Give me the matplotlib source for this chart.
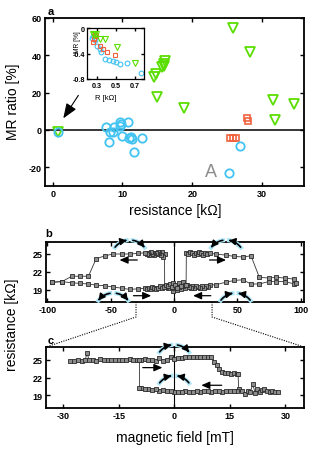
import matplotlib
matplotlib.use('Agg')
import matplotlib.pyplot as plt
import numpy as np
from matplotlib.patches import FancyArrowPatch
from matplotlib.path import Path
from matplotlib.lines import Line2D

plt.rcParams['font.family'] = ['Liberation Sans', 'DejaVu Sans']
plt.rcParams['axes.unicode_minus'] = False

# ---------------- data: panel a ----------------
blue_R = [0.7, 7.7, 8.0, 8.2, 8.7, 8.8, 9.6, 9.7, 9.8, 10.0, 10.8, 11.0, 11.2, 11.3, 11.6, 12.8, 25.3, 26.8]
blue_MR = [-1.3, 1.8, -6.3, -0.9, -1.0, 1.4, 2.4, 4.1, 3.2, -3.0, 4.1, -4.2, -3.9, -4.8, -11.6, -4.5, -23.2, -8.8]
green_R = [0.7, 14.5, 14.8, 14.9, 15.7, 15.9, 16.0, 16.1, 18.8, 25.8, 28.3, 31.6, 31.9, 34.5]
green_MR = [-1.3, 28.6, 30.0, 17.5, 33.5, 35.4, 34.5, 37.1, 11.6, 54.5, 41.6, 16.2, 5.4, 13.9]
orange_R = [25.4, 25.9, 26.2, 27.8, 28.0]
orange_MR = [-4.5, -4.5, -4.4, 6.3, 4.6]

inset_blue_R = [0.25, 0.26, 0.28, 0.30, 0.33, 0.35, 0.39, 0.43, 0.47, 0.50, 0.55, 0.62, 0.77]
inset_blue_MR = [-0.15, -0.12, -0.19, -0.28, -0.33, -0.38, -0.48, -0.50, -0.52, -0.53, -0.56, -0.55, -0.71]
inset_orange_R = [0.26, 0.27, 0.28, 0.29, 0.33, 0.37, 0.41, 0.49]
inset_orange_MR = [-0.22, -0.17, -0.11, -0.12, -0.28, -0.33, -0.37, -0.43]
inset_green_R = [0.26, 0.27, 0.29, 0.33, 0.39, 0.51, 0.71]
inset_green_MR = [-0.09, -0.11, -0.10, -0.17, -0.18, -0.30, -0.55]

a_xticks = [0, 10, 20, 30]
a_yticks = [-20, 0, 20, 40, 60]
in_xticks = [0.3, 0.5, 0.7]
in_yticks = [0, -0.4, -0.8]
in_yticklabels = ['0', '-0.4', '-0.8']

# ---------------- data: panel b ----------------
b_down_field = [95, 87.6, 80.8, 74.6, 67.3, 60.7, 54.2, 47.6, 41.1, 33.2,
                28, 26.5, 25, 23.5, 22, 20.5, 19, 17.5, 16, 14.5, 13, 11.5, 10, 8.5, 7, 5.5, 4, 2.5, 1,
                -0.5, -2, -3.5, -5, -6.5, -7.4,
                -7.5, -8.5, -9.5, -10.5, -11.5, -12.5, -13.5, -14.5, -15.5, -16.5, -17.5, -18.5, -19.5,
                -20.5, -21.5, -23,
                -28.3, -34.9, -41.4, -48, -54.5, -61.5, -67.5, -74.1, -80.6, -88.4, -96]
b_down_res = [20.0, 20.4, 20.4, 20.4, 20.0, 20.0, 20.7, 20.6, 20.3, 19.9,
              19.8, 19.5, 19.7, 19.4, 19.6, 19.3, 19.5, 19.7, 19.4, 19.6, 19.3, 19.5, 19.8, 19.4, 19.6, 19.2, 19.5, 19.0, 19.3,
              18.9, 19.4, 19.6, 19.3, 19.5, 19.6,
              25.0, 24.5, 25.3, 24.9, 25.2, 25.4, 25.0, 25.1, 24.8, 25.2, 25.0, 25.3, 24.9,
              25.1, 25.0, 25.2,
              25.1, 25.0, 25.0, 25.0, 24.7, 24.2, 21.3, 21.3, 21.3, 20.4, 20.3]
b_up_field = [-96, -88.4, -80.6, -74.1, -67.5, -61.5, -54.5, -48, -41.4, -34.9, -28.3,
              -23, -21.5, -20, -18.5, -17, -15.5, -14, -12.5, -11, -9.5, -8, -6.5, -5, -3.5, -2, -0.5,
              1, 2.5, 4, 5.5, 7, 8.5, 9.5,
              9.7, 11, 12.5, 14, 15.5, 17, 18.5, 20, 21.5, 23, 24.5, 26, 28,
              33.2, 41.1, 47.6, 54.2, 60.7, 67.3, 74.6, 80.8, 87.6, 94.7, 96]
b_up_res = [20.3, 20.4, 20.2, 20.1, 20.0, 19.8, 19.7, 19.5, 19.3, 19.1, 19.2,
            19.3, 19.1, 19.4, 19.2, 19.5, 19.3, 19.1, 19.4, 19.6, 19.3, 19.5, 19.8, 19.6, 20.0, 19.5, 20.2,
            19.8, 19.4, 20.1, 19.7, 20.3, 19.9, 19.8,
            25.2, 25.0, 25.3, 25.1, 24.9, 25.2, 25.0, 25.3, 25.1, 24.9, 25.2, 25.0, 25.1,
            25.0, 24.8, 24.6, 24.5, 24.7, 21.1, 21.0, 21.1, 21.0, 20.8, 20.2]
b_xticks = [-100, -50, 0, 50, 100]
res_ticks = [19, 22, 25]

# ---------------- data: panel c ----------------
c_up_field = [-28, -27, -26, -25, -24, -23.5, -23, -22, -21, -20, -19, -18, -17, -16, -15, -14, -13, -12,
              -11, -10, -9, -8, -7, -6, -5, -4, -3, -2, -1, 0, 1, 2, 3, 4, 5, 6, 7, 8, 9, 10,
              10.8, 11.5, 12.2, 12.9, 13.6, 14.4, 15.2, 16.0, 16.8, 17.2,
              17.4, 18.2, 19.0, 19.8, 20.5, 21.2, 21.8, 22.4, 23.0, 23.6, 24.3, 25.0, 25.7, 26.4, 27.2, 28.0]
c_up_res = [24.7, 24.8, 24.9, 24.8, 25.0, 26.1, 24.9, 25.0, 24.8, 25.1, 24.9, 25.0, 24.9, 25.0, 24.9, 25.0, 24.9, 25.1,
            25.0, 24.9, 25.0, 25.1, 24.9, 25.0, 24.8, 25.2, 24.7, 25.0, 25.4, 25.1, 25.3, 25.2, 25.4, 25.5, 25.4, 25.5, 25.5, 25.4, 25.5, 25.4,
            24.6, 24.1, 23.5, 23.0, 22.8, 22.7, 22.6, 22.7, 22.6, 22.6,
            20.0, 19.8, 19.3, 19.7, 19.5, 20.9, 19.4, 20.1, 19.6, 19.9, 20.1, 19.8, 19.6, 19.8, 19.5, 19.6]
c_down_field = [17.0, 16.0, 15.0, 14.0, 13.0, 12.0, 11.0, 10.0, 9.0, 8.0, 7.0, 6.0, 5.0, 4.0, 3.0, 2.0, 1.0, 0.0,
                -1.0, -2.0, -3.0, -4.0, -5.0, -6.0, -7.0, -8.0, -9.0, -9.4, -9.4]
c_down_res = [19.8, 19.7, 19.8, 19.7, 19.6, 19.7, 19.8, 19.6, 19.7, 19.8, 19.6, 19.7, 19.5, 19.6, 19.7, 19.5, 19.6, 19.6,
              19.8, 19.7, 19.9, 19.8, 20.0, 19.9, 20.0, 20.1, 20.2, 20.3, 25.0]
c_xticks = [-30, -15, 0, 15, 30]

# ---------------- styling ----------------
BLUE = '#42c3f2'
GREEN = '#5ade00'
ORANGE = '#f0623e'
ARCBLUE = '#ade5f7'
W, H = 323.0, 452.0


def fpos(l, t, r, b):
    return [l / W, 1 - b / H, (r - l) / W, (b - t) / H]


def style(ax, xt, yt, xl=None, yl=None, fs=6.5, sw=1.3, tl=3, pad=2.5):
    ax.tick_params(direction='in', top=True, right=True, length=tl, width=1.0, pad=pad)
    ax.set_xticks(xt, labels=xl if xl is not None else [str(v) for v in xt], fontsize=fs, fontweight='bold')
    ax.set_yticks(yt, labels=yl if yl is not None else [str(v) for v in yt], fontsize=fs, fontweight='bold')
    for s in ax.spines.values():
        s.set_linewidth(sw)


fig = plt.figure(figsize=(W / 100, H / 100), dpi=100)

# ---------------- panel a ----------------
ax = fig.add_axes(fpos(45, 19, 304, 187))
ax.set_xlim(-1.1, 36)
ax.set_ylim(-30, 60)
ax.axhline(0, color='k', lw=1.1, zorder=1)
ax.plot(green_R, green_MR, 'v', ms=7, mfc='none', mec=GREEN, mew=1.3, zorder=3)
ax.plot(orange_R, orange_MR, 's', ms=5, mfc='none', mec=ORANGE, mew=1.2, zorder=3)
ax.plot(blue_R, blue_MR, 'o', ms=6, mfc='none', mec=BLUE, mew=1.3, zorder=3)
ax.text(22.7, -22.5, 'A', fontsize=13, color='#8c8c8c', ha='center', va='center')
ax.annotate('', xy=(1.3, 5.0), xytext=(3.9, 19.8),
            arrowprops=dict(arrowstyle='-|>,head_length=0.9,head_width=0.35', mutation_scale=10,
                            color='k', lw=0.8))
style(ax, a_xticks, a_yticks)

# inset
axi = fig.add_axes(fpos(87.3, 29, 144, 80))
axi.set_xlim(0.2, 0.8)
axi.set_ylim(-0.8, 0)
axi.plot(inset_blue_R, inset_blue_MR, 'o', ms=3.4, mfc='none', mec=BLUE, mew=0.8)
axi.plot(inset_orange_R, inset_orange_MR, 's', ms=3.2, mfc='none', mec=ORANGE, mew=0.8)
axi.plot(inset_green_R, inset_green_MR, 'v', ms=3.8, mfc='none', mec=GREEN, mew=0.8)
style(axi, in_xticks, in_yticks, yl=in_yticklabels, fs=5.2, sw=0.9, tl=2, pad=1.8)
fig.text(77.5 / W, 1 - 42 / H, 'MR [%]', rotation=90, fontsize=4.8, ha='center', va='center')
fig.text(106 / W, 1 - 99 / H, 'R [kΩ]', fontsize=5.5, ha='center', va='center')

fig.text(13 / W, 1 - 102 / H, 'MR ratio [%]', rotation=90, fontsize=10, ha='center', va='center')
fig.text(175 / W, 1 - 211 / H, 'resistance [kΩ]', fontsize=10, ha='center', va='center')
fig.text(48 / W, 1 - 12 / H, 'a', fontsize=8, fontweight='bold', ha='left', va='center')

# ---------------- panel b ----------------
axb = fig.add_axes(fpos(46, 243, 304, 303))
axb.set_xlim(-101, 102.5)
axb.set_ylim(17, 27)
axb.axvline(0, color='k', lw=0.8, zorder=1)
mk = dict(color='#333333', lw=0.6, marker='s', ms=2.6, mfc='#8c8c8c', mec='#2a2a2a', mew=0.6, zorder=3)
axb.plot(b_down_field, b_down_res, **mk)
axb.plot(b_up_field, b_up_res, **mk)
style(axb, b_xticks, res_ticks)
fig.text(45 / W, 1 - 234 / H, 'b', fontsize=8, fontweight='bold', ha='left', va='center')

# ---------------- panel c ----------------
axc = fig.add_axes(fpos(46, 348, 304, 409))
axc.set_xlim(-34.6, 35)
axc.set_ylim(16.9, 27.1)
axc.axvline(0, color='k', lw=0.8, zorder=1)
axc.plot(c_up_field, c_up_res, **mk)
axc.plot(c_down_field, c_down_res, **mk)
style(axc, c_xticks, res_ticks)
fig.text(48 / W, 1 - 341 / H, 'c', fontsize=8, fontweight='bold', ha='left', va='center')

fig.text(12 / W, 1 - 325 / H, 'resistance [kΩ]', rotation=90, fontsize=10, ha='center', va='center')
fig.text(175 / W, 1 - 438 / H, 'magnetic field [mT]', fontsize=10, ha='center', va='center')


# sweep-direction arrows
def harrow(a, x0, x1, y):
    a.annotate('', xy=(x1, y), xytext=(x0, y),
               arrowprops=dict(arrowstyle='-|>,head_length=0.5,head_width=0.22', mutation_scale=10,
                               color='k', lw=0.9, shrinkA=0, shrinkB=0))


harrow(axb, -29, -43, 24.0)
harrow(axb, -32, -18, 18.05)
harrow(axb, 28, 41, 24.0)
harrow(axb, 29, 15, 18.05)
harrow(axc, -8.5, -3.2, 23.65)
harrow(axc, 12.8, 7.3, 20.7)


# magnetisation arches
def arch(a, x, y, kind, r=18.5):
    px, py = a.transData.transform((x, y))
    cx, cy = px, py - r * np.sin(np.deg2rad(31))
    inv = a.transData.inverted()

    def pts(a0, a1, n=24):
        th = np.deg2rad(np.linspace(a0, a1, n))
        return inv.transform(np.column_stack([cx + r * np.cos(th), cy + r * np.sin(th)]))

    for a0, a1 in [(150, 93), (87, 30)]:
        p = pts(a0, a1)
        a.plot(p[:, 0], p[:, 1], color=ARCBLUE, lw=3.0, solid_capstyle='butt', clip_on=False, zorder=5)
    dirs = {'cw': [(142, 100), (80, 38)], 'ccw': [(100, 142), (38, 80)],
            'conv': [(142, 100), (38, 80)], 'div': [(100, 142), (80, 38)]}
    for a0, a1 in dirs[kind]:
        p = pts(a0, a1)
        arr = FancyArrowPatch(path=Path(p), arrowstyle='-|>,head_length=3.5,head_width=2.0',
                              color='k', lw=1.2, transform=a.transData, clip_on=False, zorder=6)
        a.add_patch(arr)


arch(axb, -35, 25.83, 'cw')
arch(axb, 41, 25.83, 'ccw')
arch(axb, -48, 17.0, 'div')
arch(axb, 48.5, 17.0, 'conv')
arch(axc, 0, 25.97, 'cw')
arch(axc, 0, 20.8, 'conv')

# dotted zoom lines between b and c
inv_fig = fig.transFigure.inverted()
for xb, corner in [(-30, (0, 1)), (30, (1, 1))]:
    p1 = np.array(axb.transData.transform((xb, 17)))
    p2 = p1 + np.array([0, -15])
    p3 = np.array(axc.transAxes.transform(corner))
    pts_ = inv_fig.transform(np.vstack([p1, p2, p3]))
    fig.add_artist(Line2D(pts_[:, 0], pts_[:, 1], transform=fig.transFigure, color='k',
                          lw=0.8, linestyle=(0, (1, 1.2))))

fig.savefig('out.png', dpi=100)
